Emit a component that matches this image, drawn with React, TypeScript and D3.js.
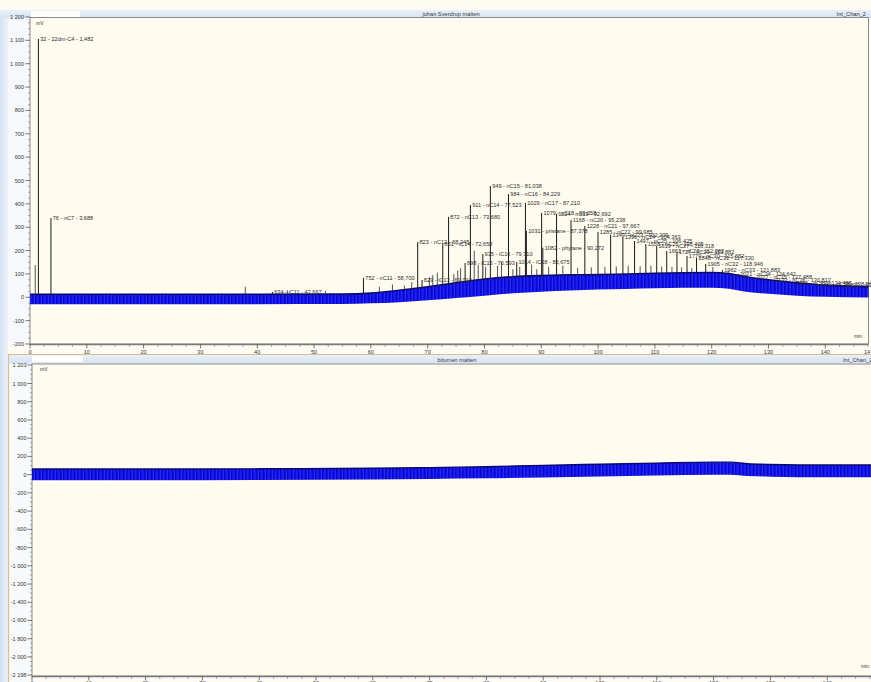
import React from "react";
import * as d3 from "d3";

const WIDTH = 871;
const HEIGHT = 682;

// ---------- text ----------
const topTitle = "johan Sverdrup malten";
const bottomTitle = "bitumen malten";
const channelName = "Int_Chan_2";
const yUnit = "mV";
const xUnit = "min";

// ---------- top chromatogram: labelled peaks (retention time min, height mV) ----------
const peakTimes = [
  1.482, 3.688, 42.667, 58.7, 68.245, 69.01, 72.658, 73.68, 76.593, 77.523, 79.71, 81.038,
  84.229, 85.675, 87.21, 87.378, 90.058, 90.272, 92.692, 95.238, 97.667, 99.985, 102.209,
  104.363, 106.425, 108.405, 110.318, 112.082, 113.882, 115.652, 117.33, 118.946, 121.883,
  124.642, 127.488, 130.812, 134.485, 138.566, 143.457,
];
const peakHeights = [
  1106, 339, 23, 83, 237, 74, 228, 344, 147, 395, 185, 476,
  442, 151, 404, 284, 361, 212, 357, 331, 305, 280, 267,
  258, 241, 228, 219, 198, 194, 177, 168, 143, 117,
  100, 85, 72, 62, 56, 52,
];
const peakLabels = [
  "32 - 22dm-C4 - 1,482", "76 - nC7 - 3,688", "634 - iC11 - 42,667", "752 - nC11 - 58,700",
  "823 - nC12 - 68,245", "829 - iC13 - 69,010", "861 - iC14 - 72,658", "872 - nC13 - 73,680",
  "898 - iC15 - 76,593", "911 - nC14 - 77,523", "935 - iC16 - 79,710", "949 - nC15 - 81,038",
  "984 - nC16 - 84,229", "1014 - iC18 - 85,675", "1029 - nC17 - 87,210", "1031 - pristane - 87,378",
  "1079 - nC18 - 90,058", "1082 - phytane - 90,272", "1124 - nC19 - 92,692", "1168 - nC20 - 95,238",
  "1228 - nC21 - 97,667", "1285 - nC22 - 99,985", "1349 - nC23 - 102,209", "1396 - nC24 - 104,363",
  "1497 - nC25 - 106,425", "1558 - nC26 - 108,405", "1619 - nC27 - 110,318", "1663 - nC28 - 112,082",
  "1727 - nC29 - 113,882", "1779 - nC30 - 115,652", "1848 - nC31 - 117,330", "1905 - nC32 - 118,946",
  "1962 - nC33 - 121,883", "2021 - nC34 - 124,642", "2077 - nC35 - 127,488", "2133 - nC36 - 130,812",
  "2186 - nC37 - 134,485", "2240 - nC38 - 138,566", "2297 - nC39 - 143,457",
];

// ---------- top chromatogram: small unlabelled peaks ----------
const minorPeakTimes = [
  0.92, 37.9, 45.3, 52.0, 61.5, 63.8, 65.9, 67.2, 70.3, 70.9, 71.7, 74.6, 75.3, 75.8, 78.2,
  78.9, 80.2, 82.3, 83.0, 85.0, 86.2, 88.3, 89.2, 91.3, 93.8, 96.4, 98.8, 101.2, 103.2,
  105.3, 107.4, 109.3, 111.2, 113.0, 114.7, 116.5, 120.2, 122.9, 125.9,
];
const minorPeakHeights = [
  138, 45, 30, 28, 45, 55, 50, 65, 85, 95, 105, 100, 115, 125, 200,
  140, 130, 135, 150, 120, 130, 140, 120, 130, 135, 125, 128, 130, 132,
  135, 133, 135, 132, 130, 128, 125, 130, 112, 95,
];

// ---------- noisy baseline band (min, upper mV, lower mV) ----------
const topBaseTimes = [0, 30, 55, 60, 65, 70, 75, 80, 85, 90, 95, 100, 105, 110, 115, 120, 123, 126, 130, 135, 140, 147.6];
const topBaseUpper = [13, 13, 14, 18, 30, 45, 62, 78, 88, 93, 96, 97, 100, 103, 105, 106, 102, 88, 75, 62, 52, 45];
const topBaseLower = [-30, -30, -29, -26, -21, -13, -3, 7, 17, 24, 29, 33, 36, 39, 41, 41, 37, 24, 15, 7, 2, -1];

const bottomBaseTimes = [0, 20, 40, 60, 70, 80, 90, 100, 110, 120, 123, 126, 130, 140, 148];
const bottomBaseUpper = [62, 62, 64, 70, 77, 87, 102, 114, 127, 137, 137, 120, 112, 106, 106];
const bottomBaseLower = [-62, -62, -59, -52, -47, -40, -30, -20, -10, -2, -2, -16, -22, -28, -28];

// ---------- ticks ----------
const xTickValues = [0, 10, 20, 30, 40, 50, 60, 70, 80, 90, 100, 110, 120, 130, 140];
const topYTickValues = [-200, -100, 0, 100, 200, 300, 400, 500, 600, 700, 800, 900, 1000, 1100, 1200];
const bottomYTickValues = [-2198, -2000, -1800, -1600, -1400, -1200, -1000, -800, -600, -400, -200, 0, 200, 400, 600, 800, 1000, 1203];

const FONT = "Liberation Sans, Arial, sans-serif";
const TXT = "#3a3a3a";

function fmt(v: number): string {
  const s = Math.abs(v).toString().replace(/\B(?=(\d{3})+(?!\d))/g, " ");
  return (v < 0 ? "-" : "") + s;
}

type Band = { t: number; hi: number; lo: number };

function makeBand(times: number[], up: number[], lo: number[]): Band[] {
  return times.map((t, i) => ({ t, hi: up[i], lo: lo[i] }));
}

export default function App() {
  // ---- scales, top panel ----
  const xTop = d3.scaleLinear().domain([0, 147.6]).range([30, 868.5]);
  const yTop = d3.scaleLinear().domain([-200, 1200]).range([344, 17]);
  // ---- scales, bottom panel ----
  const xBot = d3.scaleLinear().domain([0, 148]).range([32, 32 + 148 * 5.68]);
  const yBot = d3.scaleLinear().domain([-2198, 1203]).range([675, 365]);

  const topBand = makeBand(topBaseTimes, topBaseUpper, topBaseLower);
  const botBand = makeBand(bottomBaseTimes, bottomBaseUpper, bottomBaseLower);
  const topBaseAt = d3.scaleLinear().domain(topBaseTimes).range(topBaseUpper);

  const areaTop = d3
    .area<Band>()
    .x((d) => xTop(d.t))
    .y0((d) => yTop(d.lo))
    .y1((d) => yTop(d.hi))
    .curve(d3.curveMonotoneX);
  const edgeTop = d3
    .line<Band>()
    .x((d) => xTop(d.t))
    .y((d) => yTop(d.hi))
    .curve(d3.curveMonotoneX);
  const areaBot = d3
    .area<Band>()
    .x((d) => xBot(d.t))
    .y0((d) => yBot(d.lo))
    .y1((d) => yBot(d.hi))
    .curve(d3.curveMonotoneX);
  const edgeBot = d3
    .line<Band>()
    .x((d) => xBot(d.t))
    .y((d) => yBot(d.hi))
    .curve(d3.curveMonotoneX);

  const xMinorTop = d3.range(0, 147.6, 2.5).filter((v) => v % 10 !== 0);
  const xMinorBot = d3.range(0, 148, 2.5).filter((v) => v % 10 !== 0);
  const yMinorTop = d3.range(-200, 1200, 25).filter((v) => v % 100 !== 0);
  const yMinorBot = d3.range(-2150, 1203, 50).filter((v) => v % 200 !== 0);

  return (
    <svg
      width={WIDTH}
      height={HEIGHT}
      viewBox={`0 0 ${WIDTH} ${HEIGHT}`}
      style={{ position: "absolute", left: 0, top: 0, display: "block" }}
      fontFamily={FONT}
    >
      <defs>
        <linearGradient id="leftStrip" x1="0" x2="1" y1="0" y2="0">
          <stop offset="0" stopColor="#d3e1f3" />
          <stop offset="1" stopColor="#eef3fa" />
        </linearGradient>
        <linearGradient id="hdr" x1="0" x2="0" y1="0" y2="1">
          <stop offset="0" stopColor="#e8eff9" />
          <stop offset="1" stopColor="#d6e3f3" />
        </linearGradient>
        <pattern id="noise" width="7" height="9" patternUnits="userSpaceOnUse">
          <rect width="7" height="9" fill="#1010f0" />
          <rect x="0" width="0.7" height="9" fill="#0606a8" />
          <rect x="2.6" y="0" width="0.6" height="9" fill="#2a32ff" />
          <rect x="4.3" width="0.7" height="9" fill="#08089a" />
          <rect x="6" y="0" width="0.5" height="9" fill="#3a48ff" />
        </pattern>
        <clipPath id="clipTop">
          <rect x={30} y={17} width={839} height={327} />
        </clipPath>
        <clipPath id="clipBot">
          <rect x={32} y={364} width={850} height={312} />
        </clipPath>
      </defs>

      {/* page background */}
      <rect x={0} y={0} width={WIDTH} height={HEIGHT} fill="#fefbf3" />
      <rect x={0} y={10} width={8} height={HEIGHT - 10} fill="url(#leftStrip)" />
      <rect x={8} y={18} width={22} height={326} fill="#f6f8fb" />
      <rect x={8} y={364} width={24} height={318} fill="#f7f9fb" />

      {/* ================= TOP PANEL ================= */}
      <rect x={0} y={10} width={WIDTH} height={8} fill="url(#hdr)" />
      <rect x={31} y={11} width={49} height={6} fill="#ffffff" />
      <text x={451} y={16} fontSize={5.7} fill={TXT} textAnchor="middle">{topTitle}</text>
      <text x={866} y={16} fontSize={5.7} fill={TXT} textAnchor="end">{channelName}</text>

      <rect x={30} y={17.5} width={838.5} height={326.5} fill="#fffbee" stroke="#8a8a8a" strokeWidth={1} />

      <g clipPath="url(#clipTop)">
        <path d={areaTop(topBand) || ""} fill="url(#noise)" />
        <path d={edgeTop(topBand) || ""} fill="none" stroke="#0a0a70" strokeWidth={1.6} />
        {minorPeakTimes.map((t, i) => (
          <line
            key={"mp" + i}
            x1={xTop(t)}
            x2={xTop(t)}
            y1={yTop(topBaseAt(t) - 4)}
            y2={yTop(minorPeakHeights[i])}
            stroke="#2a2a3a"
            strokeWidth={0.8}
          />
        ))}
        {peakTimes.map((t, i) => (
          <line
            key={"p" + i}
            x1={xTop(t)}
            x2={xTop(t)}
            y1={yTop(topBaseAt(t) - 4)}
            y2={yTop(peakHeights[i])}
            stroke="#1a1a1a"
            strokeWidth={1}
          />
        ))}
      </g>
      {peakTimes.map((t, i) => (
        <text
          key={"pl" + i}
          x={xTop(t) + 1.8}
          y={yTop(peakHeights[i]) + 2}
          fontSize={5.6}
          fill="#2e2e2e"
        >
          {peakLabels[i]}
        </text>
      ))}
      <text x={36} y={25} fontSize={5} fill={TXT}>{yUnit}</text>
      <text x={862} y={338} fontSize={5} fill={TXT} textAnchor="end">{xUnit}</text>

      {/* top y axis */}
      {topYTickValues.map((v) => (
        <g key={"ty" + v}>
          <line x1={25.5} x2={30} y1={yTop(v)} y2={yTop(v)} stroke="#555" strokeWidth={0.8} />
          <text x={24} y={yTop(v) + 2} fontSize={5.6} fill={TXT} textAnchor="end">{fmt(v)}</text>
        </g>
      ))}
      {yMinorTop.map((v) => (
        <line key={"tym" + v} x1={28} x2={30} y1={yTop(v)} y2={yTop(v)} stroke="#777" strokeWidth={0.6} />
      ))}

      {/* top x axis */}
      <line x1={30} x2={868.5} y1={344.5} y2={344.5} stroke="#7a7a7a" strokeWidth={1.6} />
      {xTickValues.map((v) => (
        <g key={"tx" + v}>
          <line x1={xTop(v)} x2={xTop(v)} y1={344} y2={348.5} stroke="#555" strokeWidth={0.8} />
          <text x={xTop(v)} y={353.5} fontSize={5.6} fill={TXT} textAnchor="middle">{fmt(v)}</text>
        </g>
      ))}
      {xMinorTop.map((v) => (
        <line key={"txm" + v} x1={xTop(v)} x2={xTop(v)} y1={344} y2={347} stroke="#777" strokeWidth={0.6} />
      ))}
      <text x={871} y={353.5} fontSize={5.6} fill={TXT} textAnchor="middle">147.6</text>

      {/* ================= BOTTOM PANEL ================= */}
      <line x1={8} x2={WIDTH} y1={354.5} y2={354.5} stroke="#d8c08e" strokeWidth={1.2} />
      <line x1={8.5} x2={8.5} y1={354.5} y2={HEIGHT} stroke="#d8c08e" strokeWidth={1.2} />
      <rect x={9} y={355} width={WIDTH - 9} height={8.5} fill="url(#hdr)" />
      <rect x={32} y={356} width={51} height={6} fill="#ffffff" />
      <text x={457} y={361.5} fontSize={5.7} fill={TXT} textAnchor="middle">{bottomTitle}</text>
      <text x={843} y={361.5} fontSize={5.7} fill={TXT}>{channelName}</text>

      <rect x={32} y={364} width={850} height={312} fill="#fffbee" stroke="#8a8a8a" strokeWidth={1} />

      <g clipPath="url(#clipBot)">
        <path d={areaBot(botBand) || ""} fill="url(#noise)" />
        <path d={edgeBot(botBand) || ""} fill="none" stroke="#0a0a70" strokeWidth={1.4} />
      </g>
      <text x={40} y={371} fontSize={5} fill={TXT}>{yUnit}</text>
      <text x={869} y={668} fontSize={5} fill={TXT} textAnchor="end">{xUnit}</text>

      {/* bottom y axis */}
      {bottomYTickValues.map((v) => (
        <g key={"by" + v}>
          <line x1={27.5} x2={32} y1={yBot(v)} y2={yBot(v)} stroke="#555" strokeWidth={0.8} />
          <text x={26.5} y={yBot(v) + 2} fontSize={5.6} fill={TXT} textAnchor="end">{fmt(v)}</text>
        </g>
      ))}
      {yMinorBot.map((v) => (
        <line key={"bym" + v} x1={30} x2={32} y1={yBot(v)} y2={yBot(v)} stroke="#777" strokeWidth={0.6} />
      ))}

      {/* bottom x axis */}
      <line x1={32} x2={WIDTH} y1={676.5} y2={676.5} stroke="#7a7a7a" strokeWidth={1.6} />
      {xTickValues.map((v) => (
        <g key={"bx" + v}>
          <line x1={xBot(v)} x2={xBot(v)} y1={676} y2={680.5} stroke="#555" strokeWidth={0.8} />
          <text x={xBot(v)} y={685} fontSize={5.6} fill={TXT} textAnchor="middle">{fmt(v)}</text>
        </g>
      ))}
      {xMinorBot.map((v) => (
        <line key={"bxm" + v} x1={xBot(v)} x2={xBot(v)} y1={676} y2={679} stroke="#777" strokeWidth={0.6} />
      ))}
    </svg>
  );
}
